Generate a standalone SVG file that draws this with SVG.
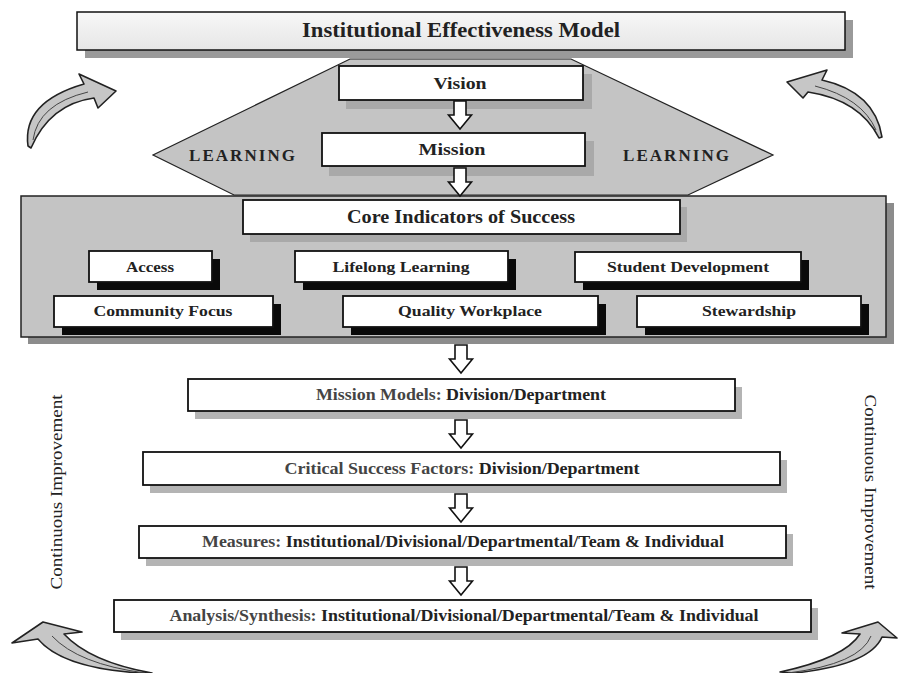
<svg xmlns="http://www.w3.org/2000/svg" width="898" height="673" viewBox="0 0 898 673">
<style>
text{font-family:"Liberation Serif","Times New Roman",serif;font-weight:bold;fill:#222;text-anchor:middle}
.box{fill:#fff;stroke:#111;stroke-width:1.8}
.sh{fill:#b4b4b4}
.bsh{fill:#0a0a0a}
.lt{font-weight:normal}
.pre{fill:#444}
.curve{fill:#c6c6c6;stroke:#222;stroke-width:1.6;stroke-linejoin:round}
.inner{fill:none;stroke:#444;stroke-width:1}
.da{fill:#fff;stroke:#111;stroke-width:1.6;stroke-linejoin:miter}
.ci{font-size:16px}
.cd{font-size:15.5px}
.lw{font-size:16px}
</style>
<defs>
<path id="da" d="M-6,0 H6 V14 H11.5 L0,28 L-11.5,14 H-6 Z"/>
<linearGradient id="tg" x1="0" y1="0" x2="0" y2="1"><stop offset="0" stop-color="#f7f7f7"/><stop offset="1" stop-color="#e6e6e6"/></linearGradient>
</defs>
<rect width="898" height="673" fill="#fff"/>

<g id="title">
<rect x="85" y="20" width="768" height="38" fill="#9a9a9a"/>
<rect x="77" y="12" width="768" height="38" fill="url(#tg)" stroke="#111" stroke-width="1.5"/>
<text x="461" y="37" font-size="20" textLength="318" lengthAdjust="spacingAndGlyphs">Institutional Effectiveness Model</text>
</g>

<g id="learning">
<polygon points="350,59 571,59 773,155 688,195 234,195 153,155" fill="#c4c4c4" stroke="#222" stroke-width="1.2"/>
<text x="242" y="161" font-size="17" textLength="106" lengthAdjust="spacing">LEARNING</text>
<text x="676" y="161" font-size="17" textLength="106" lengthAdjust="spacing">LEARNING</text>
</g>

<g id="vision">
<rect x="346" y="74" width="246" height="35" fill="#a9a9a9"/>
<rect x="339" y="66" width="244" height="34" class="box"/>
<text x="460" y="89" font-size="17" textLength="53" lengthAdjust="spacingAndGlyphs">Vision</text>
</g>

<g id="mission">
<rect x="329" y="141" width="265" height="35" fill="#a9a9a9"/>
<rect x="322" y="133" width="263" height="33" class="box"/>
<text x="452" y="155" font-size="17" textLength="67" lengthAdjust="spacingAndGlyphs">Mission</text>
</g>

<g id="core-panel">
<rect x="28" y="203" width="866" height="141" fill="#8c8c8c"/>
<rect x="21" y="196" width="865" height="141" fill="#c4c4c4" stroke="#222" stroke-width="1.5"/>
</g>

<g id="core">
<rect x="250" y="207" width="437" height="35" fill="#a9a9a9"/>
<rect x="243" y="200" width="437" height="34" class="box"/>
<text x="461" y="223" font-size="18" textLength="228" lengthAdjust="spacingAndGlyphs">Core Indicators of Success</text>
</g>

<g id="access">
<rect x="97" y="259" width="123" height="31" class="bsh"/>
<rect x="89" y="251" width="123" height="31" class="box"/>
<text x="150" y="272" class="cd" textLength="48" lengthAdjust="spacingAndGlyphs">Access</text>
</g>
<g id="lifelong">
<rect x="303" y="259" width="213" height="31" class="bsh"/>
<rect x="295" y="251" width="213" height="31" class="box"/>
<text x="401" y="272" class="cd" textLength="137" lengthAdjust="spacingAndGlyphs">Lifelong Learning</text>
</g>
<g id="student">
<rect x="583" y="260" width="226" height="30" class="bsh"/>
<rect x="575" y="252" width="226" height="30" class="box"/>
<text x="688" y="272" class="cd" textLength="162" lengthAdjust="spacingAndGlyphs">Student Development</text>
</g>
<g id="community">
<rect x="62" y="304" width="219" height="31" class="bsh"/>
<rect x="54" y="296" width="219" height="31" class="box"/>
<text x="163" y="316" class="cd" textLength="139" lengthAdjust="spacingAndGlyphs">Community Focus</text>
</g>
<g id="quality">
<rect x="351" y="304" width="255" height="31" class="bsh"/>
<rect x="343" y="296" width="255" height="31" class="box"/>
<text x="470" y="316" class="cd" textLength="144" lengthAdjust="spacingAndGlyphs">Quality Workplace</text>
</g>
<g id="stewardship">
<rect x="645" y="304" width="224" height="31" class="bsh"/>
<rect x="637" y="296" width="224" height="31" class="box"/>
<text x="749" y="316" class="cd" textLength="94" lengthAdjust="spacingAndGlyphs">Stewardship</text>
</g>

<g id="mission-models">
<rect x="195" y="387" width="547" height="32" class="sh"/>
<rect x="188" y="379" width="547" height="32" class="box"/>
<text x="461" y="400" class="lw" textLength="290" lengthAdjust="spacingAndGlyphs"><tspan class="pre">Mission Models:  </tspan>Division/Department</text>
</g>
<g id="csf">
<rect x="150" y="460" width="637" height="33" class="sh"/>
<rect x="143" y="452" width="637" height="33" class="box"/>
<text x="462" y="474" class="lw" textLength="355" lengthAdjust="spacingAndGlyphs"><tspan class="pre">Critical Success Factors:  </tspan>Division/Department</text>
</g>
<g id="measures">
<rect x="146" y="534" width="647" height="32" class="sh"/>
<rect x="139" y="526" width="647" height="32" class="box"/>
<text x="463" y="547" class="lw" textLength="522" lengthAdjust="spacingAndGlyphs"><tspan class="pre">Measures:  </tspan>Institutional/Divisional/Departmental/Team &amp; Individual</text>
</g>
<g id="analysis">
<rect x="121" y="608" width="697" height="32" class="sh"/>
<rect x="114" y="600" width="697" height="32" class="box"/>
<text x="464" y="621" class="lw" textLength="589" lengthAdjust="spacingAndGlyphs"><tspan class="pre">Analysis/Synthesis:  </tspan>Institutional/Divisional/Departmental/Team &amp; Individual</text>
</g>

<g id="ci-left">
<text transform="translate(62,492) rotate(-90)" class="ci lt" textLength="195" lengthAdjust="spacingAndGlyphs">Continuous Improvement</text>
</g>
<g id="ci-right">
<text transform="translate(865,492) rotate(90)" class="ci lt" textLength="195" lengthAdjust="spacingAndGlyphs">Continuous Improvement</text>
</g>

<g id="connectors">
<use href="#da" x="460" y="101" class="da"/>
<use href="#da" x="460" y="168" class="da"/>
<use href="#da" x="461" y="345" class="da"/>
<use href="#da" x="461" y="420" class="da"/>
<use href="#da" x="461" y="494" class="da"/>
<use href="#da" x="461" y="567" class="da"/>
<path class="curve" d="M116,91 L98,108 L94,98 Q50,104 31,148 L28,146 Q22,102 84,84 L79,74 Z"/>
<path class="inner" d="M33,140 Q38,104 88,92"/>
<path class="curve" d="M787,82 L827,70 L822,80 Q875,92 882,137 L879,138 Q860,100 808,92 L803,98 Z"/>
<path class="inner" d="M876,130 Q862,98 815,86"/>
<path class="curve" d="M43,622 L82,632 L64,634 Q90,662 152,673 L140,673 Q62,668 38,639 L12,643 Z"/>
<path class="inner" d="M52,636 Q78,664 145,673"/>
<path class="curve" d="M878,622 L897,638 L882,637 Q870,665 795,673 L780,672 Q845,658 860,634 L842,633 Z"/>
<path class="inner" d="M871,636 Q860,664 788,673"/>
</g>
</svg>
